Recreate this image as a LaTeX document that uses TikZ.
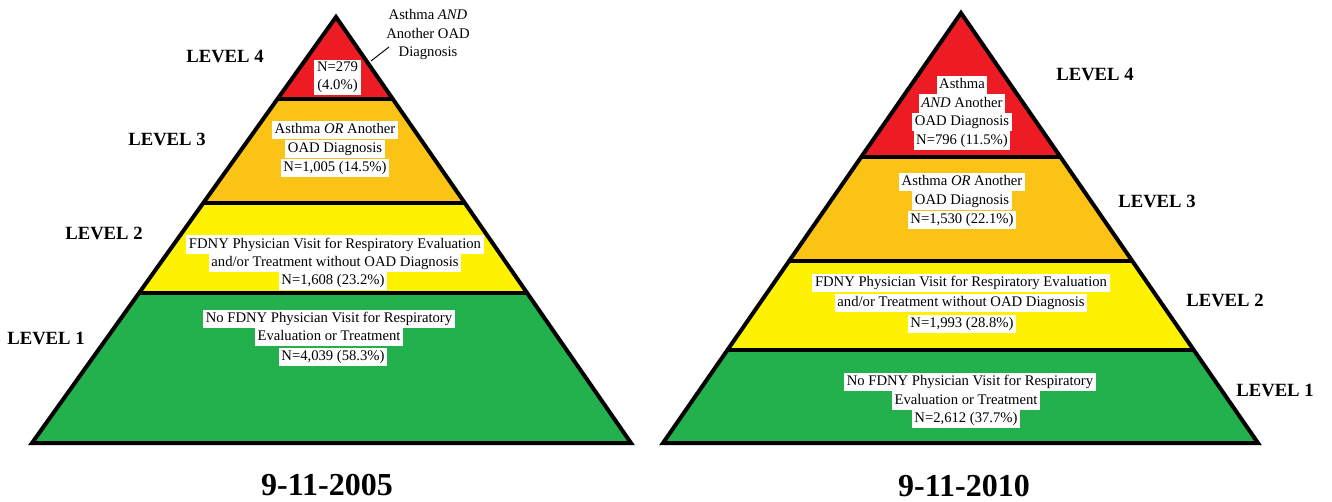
\documentclass[tikz,border=0pt]{standalone}
\usepackage{fontspec}
\setmainfont{Liberation Serif}
\usetikzlibrary{calc}
\definecolor{cred}{HTML}{ED1C24}
\definecolor{corange}{HTML}{FBC315}
\definecolor{cyellow}{HTML}{FFF200}
\definecolor{cgreen}{HTML}{22B14C}
\begin{document}
\begin{tikzpicture}[x=0.75pt,y=-0.75pt,
  outline/.style={line width=3pt, line join=miter, miter limit=10},
  divider/.style={line width=2.8pt},
  leader/.style={line width=0.7pt},
  txt/.style={fill=white, font=\fontsize{11}{13.5}\selectfont, inner xsep=2pt, inner ysep=1.7pt, text height=7.9pt, text depth=2.5pt},
  twobox/.style={fill=white, align=center, font=\fontsize{11}{13.6}\selectfont, inner xsep=2pt, inner ysep=1.6pt},
  note/.style={align=center, font=\fontsize{11}{14.2}\selectfont, inner sep=0pt},
  lvl/.style={font=\fontsize{14}{16}\selectfont\bfseries, inner sep=0pt},
  year/.style={font=\fontsize{24}{28}\selectfont\bfseries, inner sep=0pt}]
\useasboundingbox (0,0) rectangle (1332,502);
\fill[white] (0,0) rectangle (1332,502);

% ---------- left pyramid ----------
\coordinate (A1) at (336,17);
\coordinate (L1) at (32,443);
\coordinate (R1) at (631,443);
\coordinate (a1l) at ($(A1)!0.1925!(L1)$);
\coordinate (a1r) at ($(A1)!0.1925!(R1)$);
\coordinate (b1l) at ($(A1)!0.4366!(L1)$);
\coordinate (b1r) at ($(A1)!0.4366!(R1)$);
\coordinate (c1l) at ($(A1)!0.6479!(L1)$);
\coordinate (c1r) at ($(A1)!0.6479!(R1)$);
\fill[cred] (A1) -- (a1r) -- (a1l) -- cycle;
\fill[corange] (a1l) -- (a1r) -- (b1r) -- (b1l) -- cycle;
\fill[cyellow] (b1l) -- (b1r) -- (c1r) -- (c1l) -- cycle;
\fill[cgreen] (c1l) -- (c1r) -- (R1) -- (L1) -- cycle;
\draw[divider] (a1l) -- (a1r);
\draw[divider] (b1l) -- (b1r);
\draw[divider] (c1l) -- (c1r);
\draw[outline] (A1) -- (R1) -- (L1) -- cycle;

% ---------- right pyramid ----------
\coordinate (A2) at (961,13);
\coordinate (L2) at (663,443);
\coordinate (R2) at (1258,443);
\coordinate (a2l) at ($(A2)!0.3349!(L2)$);
\coordinate (a2r) at ($(A2)!0.3349!(R2)$);
\coordinate (b2l) at ($(A2)!0.5767!(L2)$);
\coordinate (b2r) at ($(A2)!0.5767!(R2)$);
\coordinate (c2l) at ($(A2)!0.7837!(L2)$);
\coordinate (c2r) at ($(A2)!0.7837!(R2)$);
\fill[cred] (A2) -- (a2r) -- (a2l) -- cycle;
\fill[corange] (a2l) -- (a2r) -- (b2r) -- (b2l) -- cycle;
\fill[cyellow] (b2l) -- (b2r) -- (c2r) -- (c2l) -- cycle;
\fill[cgreen] (c2l) -- (c2r) -- (R2) -- (L2) -- cycle;
\draw[divider] (a2l) -- (a2r);
\draw[divider] (b2l) -- (b2r);
\draw[divider] (c2l) -- (c2r);
\draw[outline] (A2) -- (R2) -- (L2) -- cycle;

% ---------- left texts ----------
\node[lvl] (lv4a) at (225,57) {LEVEL 4};
\node[lvl] (lv3a) at (167,139) {LEVEL 3};
\node[lvl] (lv2a) at (104,233) {LEVEL 2};
\node[lvl] (lv1a) at (46,338) {LEVEL 1};

\node[note] (note4a) at (428,34.5) {Asthma \textit{AND}\\Another OAD\\Diagnosis};
\coordinate (lead0) at (389,47);
\coordinate (lead1) at (371,61);
\draw[leader] (lead0) -- (lead1);

\node[twobox] (n4a) at (337.5,77.5) {N=279\\(4.0\%)};

\node[txt] (t3a1) at (335,130) {Asthma \textit{OR} Another};
\node[txt] (t3a2) at (335,149) {OAD Diagnosis};
\node[txt] (t3a3) at (335,168) {N=1,005 (14.5\%)};

\node[txt] (t2a1) at (335,244.5) {FDNY Physician Visit for Respiratory Evaluation};
\node[txt] (t2a2) at (335,262.5) {and/or Treatment without OAD Diagnosis};
\node[txt] (t2a3) at (333,280.5) {N=1,608 (23.2\%)};

\node[txt] (t1a1) at (329,319) {No FDNY Physician Visit for Respiratory};
\node[txt] (t1a2) at (329,337) {Evaluation or Treatment};
\node[txt] (t1a3) at (333,357) {N=4,039 (58.3\%)};

\node[year] (yr1) at (327,485) {9-11-2005};

% ---------- right texts ----------
\node[lvl] (lv4b) at (1095,75) {LEVEL 4};
\node[lvl] (lv3b) at (1157,201) {LEVEL 3};
\node[lvl] (lv2b) at (1225,300) {LEVEL 2};
\node[lvl] (lv1b) at (1275,390) {LEVEL 1};

\node[txt] (t4b1) at (962,85) {Asthma};
\node[txt] (t4b2) at (962,103.5) {\textit{AND} Another};
\node[txt] (t4b3) at (962,122) {OAD Diagnosis};
\node[txt] (t4b4) at (962,140.5) {N=796 (11.5\%)};

\node[txt] (t3b1) at (962,182) {Asthma \textit{OR} Another};
\node[txt] (t3b2) at (962,200.5) {OAD Diagnosis};
\node[txt] (t3b3) at (962,220) {N=1,530 (22.1\%)};

\node[txt] (t2b1) at (961,283) {FDNY Physician Visit for Respiratory Evaluation};
\node[txt] (t2b2) at (961,303) {and/or Treatment without OAD Diagnosis};
\node[txt] (t2b3) at (962,324) {N=1,993 (28.8\%)};

\node[txt] (t1b1) at (970,382) {No FDNY Physician Visit for Respiratory};
\node[txt] (t1b2) at (966,400.5) {Evaluation or Treatment};
\node[txt] (t1b3) at (966,419) {N=2,612 (37.7\%)};

\node[year] (yr2) at (964,486) {9-11-2010};
\end{tikzpicture}
\end{document}
